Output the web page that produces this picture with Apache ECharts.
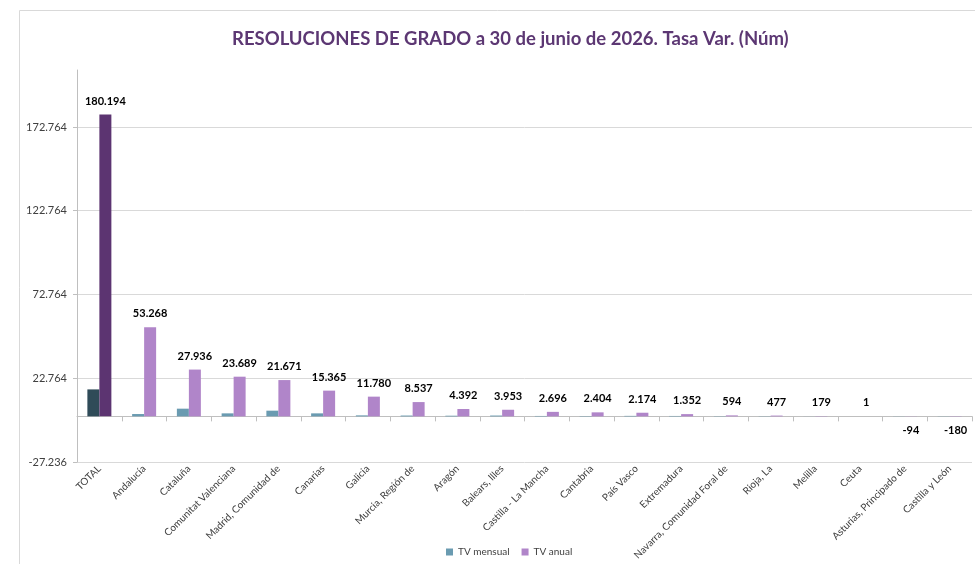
<!DOCTYPE html>
<html>
<head>
<meta charset="utf-8">
<script src="https://cdn.jsdelivr.net/npm/echarts@6/dist/echarts.min.js"></script>
<style>
  html, body { margin: 0; padding: 0; background: #fff; }
  #chart { width: 975px; height: 564px; }
</style>
</head>
<body>
<div id="chart"></div>
<script>
// comunidades
var categorias = ['TOTAL', 'Andalucía', 'Cataluña', 'Comunitat Valenciana', 'Madrid, Comunidad de',
  'Canarias', 'Galicia', 'Murcia, Región de', 'Aragón', 'Balears, Illes', 'Castilla - La Mancha',
  'Cantabria', 'País Vasco', 'Extremadura', 'Navarra, Comunidad Foral de', 'Rioja, La', 'Melilla',
  'Ceuta', 'Asturias, Principado de', 'Castilla y León'];

var tvMensual = [16100, 1400, 4600, 1800, 3400, 1800, 600, 500, 400, 500, 250, 200, 300, 250, 150, 120, 40, 5, 80, 100];

// TV anual
var tvAnual = [180194, 53268, 27936, 23689, 21671, 15365, 11780, 8537, 4392, 3953, 2696, 2404, 2174, 1352, 594, 477, 179, 1, -94, -180];

// eje Y
var yMin = -27236;
var yMax = 206764;
var yPaso = 50000;

var fuente = 'Lato';

function fmt(v) {
  var s = String(Math.abs(Math.round(v))).replace(/\B(?=(\d{3})+(?!\d))/g, '.');
  return (v < 0 ? '-' : '') + s;
}

var chart = echarts.init(document.getElementById('chart'));

chart.setOption({
  textStyle: { fontFamily: fuente },
  title: {
    text: 'RESOLUCIONES DE GRADO a 30 de junio de 2026. Tasa Var. (Núm)',
    left: 227,
    top: 25,
    textStyle: { fontSize: 18.5, fontWeight: 'bold', color: '#5c3773', fontFamily: fuente }
  },
  graphic: [{
    type: 'rect',
    shape: { x: 19.5, y: 10.5, width: 1000, height: 600 },
    style: { fill: 'none', stroke: '#d9d9d9', lineWidth: 1 },
    silent: true
  }],
  legend: {
    top: 542,
    left: 441,
    itemWidth: 7,
    itemHeight: 7,
    itemGap: 12,
    icon: 'rect',
    textStyle: { fontSize: 10, color: '#404040', fontFamily: fuente },
    data: ['TV mensual', 'TV anual']
  },
  grid: { left: 77, right: 3, top: 70, bottom: 102 },
  xAxis: {
    type: 'category',
    data: categorias,
    axisLine: { onZero: true, lineStyle: { color: '#bfbfbf' } },
    axisTick: { show: true, length: 5, lineStyle: { color: '#bfbfbf' } },
    axisLabel: { interval: 0, rotate: 45, fontSize: 10, color: '#404040', margin: 5, fontFamily: fuente }
  },
  yAxis: {
    type: 'value',
    min: yMin,
    max: yMax,
    interval: yPaso,
    axisLine: { show: true, lineStyle: { color: '#bfbfbf' } },
    axisTick: { show: true, length: 4, lineStyle: { color: '#bfbfbf' } },
    axisLabel: { showMaxLabel: false, fontSize: 11, color: '#404040', margin: 10, formatter: fmt, fontFamily: fuente },
    splitLine: { show: true, showMaxLine: false, lineStyle: { color: '#d9d9d9' } }
  },
  series: [
    {
      name: 'TV mensual',
      type: 'bar',
      barWidth: 12,
      barGap: '0%',
      itemStyle: { color: '#6a9bb1' },
      data: tvMensual.map(function (v, i) {
        return i === 0 ? { value: v, itemStyle: { color: '#2f4b58' } } : v;
      })
    },
    {
      name: 'TV anual',
      type: 'bar',
      barWidth: 12,
      barGap: '0%',
      itemStyle: { color: '#b085c9' },
      label: {
        show: true,
        position: 'top',
        distance: 8,
        fontSize: 11,
        fontWeight: 'bold',
        color: '#000',
        fontFamily: fuente,
        formatter: function (p) { return fmt(p.value); }
      },
      data: tvAnual.map(function (v, i) {
        if (i === 0) return { value: v, itemStyle: { color: '#5c3471' } };
        // negativos: etiqueta bajo el eje, como en el original
        if (v < 0) return { value: v, label: { position: 'bottom' } };
        return v;
      })
    }
  ]
});
</script>
</body>
</html>
